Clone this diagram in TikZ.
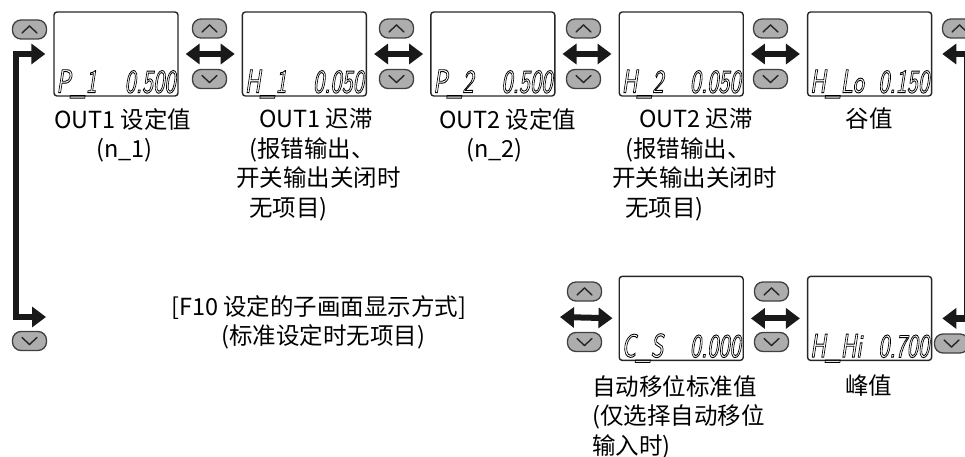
\documentclass[tikz,border=0pt]{standalone}
\usepackage{fontspec}
\setmainfont{Noto Sans CJK SC}
\usepackage{tikz}
\usetikzlibrary{arrows.meta,positioning}

\begin{document}
\begin{tikzpicture}[x=1pt,y=-1pt,
font=\fontsize{23.5}{29.5}\selectfont,
disp/.style={
    rectangle, draw=black!85,
    line width=1.4pt,
    rounded corners=3pt,
    minimum width=124pt,
    minimum height=84pt,
    inner sep=0pt
},
rdout/.style={
    inner sep=0pt,
    font=\fontsize{33}{33}\sffamily\slshape,
    execute at begin node={\special{pdf:literal direct 1 Tr 0.9 w}},
    execute at end node={\special{pdf:literal direct 0 Tr 0.4 w}}
},
btn/.style={
    rectangle, draw=black!75,
    fill=black!32,
    line width=1.3pt,
    rounded corners=8.5pt,
    minimum width=34pt,
    minimum height=19pt,
    inner sep=0pt
},
btnup/.style={btn, path picture={
    \draw[sharp corners, line width=1.4pt, black!85, line cap=round, line join=miter]
    ([shift={(-7.5,3.5)}]path picture bounding box.center) -- ++(7.5,-7) -- ++(7.5,7);}
},
btndn/.style={btn, path picture={
    \draw[sharp corners, line width=1.4pt, black!85, line cap=round, line join=miter]
    ([shift={(-7.5,-3.5)}]path picture bounding box.center) -- ++(7.5,7) -- ++(7.5,-7);}
},
dbl/.style={{Triangle[length=14pt,width=20pt]}-{Triangle[length=14pt,width=20pt]}, line width=6pt, black!90},
loopar/.style={{Triangle[length=14pt,width=20pt]}-{Triangle[length=14pt,width=20pt]}, line width=6.5pt, black!90},
lbl/.style={inner sep=0pt, align=left, anchor=north west}
]
\useasboundingbox (0,0) rectangle (965,457);
\clip (0,0) rectangle (965,457);

% displays
\node[disp] (p1) at (116,54) {};
\node[disp, right=63pt of p1] (h1) {};
\node[disp, right=63pt of h1] (p2) {};
\node[disp, right=63pt of p2] (h2) {};
\node[disp, right=63pt of h2] (lo) {};
\node[disp, below=179pt of lo] (hi) {};
\node[disp, left=63pt of hi] (cs) {};

% readouts
\node[rdout, anchor=base west] (p1l) at ([shift={(3,-4)}]p1.south west) {\scalebox{0.72}[1]{P\_1}};
\node[rdout, anchor=base east] (p1r) at ([shift={(-3,-4)}]p1.south east) {\scalebox{0.72}[1]{0.500}};
\node[rdout, anchor=base west] (h1l) at ([shift={(3,-4)}]h1.south west) {\scalebox{0.72}[1]{H\_1}};
\node[rdout, anchor=base east] (h1r) at ([shift={(-3,-4)}]h1.south east) {\scalebox{0.72}[1]{0.050}};
\node[rdout, anchor=base west] (p2l) at ([shift={(3,-4)}]p2.south west) {\scalebox{0.72}[1]{P\_2}};
\node[rdout, anchor=base east] (p2r) at ([shift={(-3,-4)}]p2.south east) {\scalebox{0.72}[1]{0.500}};
\node[rdout, anchor=base west] (h2l) at ([shift={(3,-4)}]h2.south west) {\scalebox{0.72}[1]{H\_2}};
\node[rdout, anchor=base east] (h2r) at ([shift={(-3,-4)}]h2.south east) {\scalebox{0.72}[1]{0.050}};
\node[rdout, anchor=base west] (lol) at ([shift={(3,-4)}]lo.south west) {\scalebox{0.72}[1]{H\_Lo}};
\node[rdout, anchor=base east] (lor) at ([shift={(-3,-4)}]lo.south east) {\scalebox{0.72}[1]{0.150}};
\node[rdout, anchor=base west] (csl) at ([shift={(3,-4)}]cs.south west) {\scalebox{0.72}[1]{C\_S}};
\node[rdout, anchor=base east] (csr) at ([shift={(-3,-4)}]cs.south east) {\scalebox{0.72}[1]{0.000}};
\node[rdout, anchor=base west] (hil) at ([shift={(3,-4)}]hi.south west) {\scalebox{0.72}[1]{H\_Hi}};
\node[rdout, anchor=base east] (hir) at ([shift={(-3,-4)}]hi.south east) {\scalebox{0.72}[1]{0.700}};

% buttons
\node[btnup] (u0) at (29.5,29.5) {};
\node[btndn] (d0) at (29.5,341) {};
\node[btnup] (u1) at (209.5,28.5) {};
\node[btndn] (d1) at (209.5,79) {};
\node[btnup] (u2) at (396.5,28.5) {};
\node[btndn] (d2) at (396.5,79) {};
\node[btnup] (u3) at (583.5,28.5) {};
\node[btndn] (d3) at (583.5,79) {};
\node[btnup] (u4) at (770.5,28.5) {};
\node[btndn] (d4) at (770.5,79) {};
\node[btnup] (u5) at (959.5,28.5) {};
\node[btndn] (d5) at (951.5,343.5) {};
\node[btnup] (u6) at (584.5,291.5) {};
\node[btndn] (d6) at (584.5,342) {};
\node[btnup] (u7) at (771.5,291.5) {};
\node[btndn] (d7) at (771.5,342) {};

% arrows
\coordinate (lend) at (46,317);
\coordinate (csin) at (560,317);
\draw[dbl, shorten <=7pt, shorten >=7pt] (p1) -- (h1);
\draw[dbl, shorten <=7pt, shorten >=7pt] (h1) -- (p2);
\draw[dbl, shorten <=7pt, shorten >=7pt] (p2) -- (h2);
\draw[dbl, shorten <=7pt, shorten >=7pt] (h2) -- (lo);
\draw[dbl, shorten <=7pt, shorten >=7pt] (cs) -- (hi);
\draw[dbl, shorten >=6pt] (csin) -- (cs.west);
\draw[loopar, shorten <=8pt] (p1.west) -- ++(-37.5,0) |- (lend);
\draw[loopar, shorten <=10pt, shorten >=10pt] (lo.east) -- ++(35,0) |- (hi.east);

% labels
\node[lbl] (t1) at (54,108) {OUT1 设定值\\\hspace*{42pt}(n\_1)};
\node[lbl] (t2) at (236,108) {\hspace*{23pt}OUT1 迟滞\\\hspace*{13pt}(报错输出、\\开关输出关闭时\\\hspace*{13pt}无项目)};
\node[lbl] (t3) at (439,108) {OUT2 设定值\\\hspace*{27pt}(n\_2)};
\node[lbl] (t4) at (612,108) {\hspace*{27pt}OUT2 迟滞\\\hspace*{13pt}(报错输出、\\开关输出关闭时\\\hspace*{13pt}无项目)};
\node[inner sep=0pt, anchor=north] (t5) at (869,108) {谷值};
\node[lbl] (t6) at (592,375) {自动移位标准值\\(仅选择自动移位\\输入时)};
\node[inner sep=0pt, anchor=north] (t7) at (868.5,375) {峰值};
\node[lbl] (t8) at (171,295) {[F10 设定的子画面显示方式]\\\hspace*{50pt}(标准设定时无项目)};

\end{tikzpicture}
\end{document}
